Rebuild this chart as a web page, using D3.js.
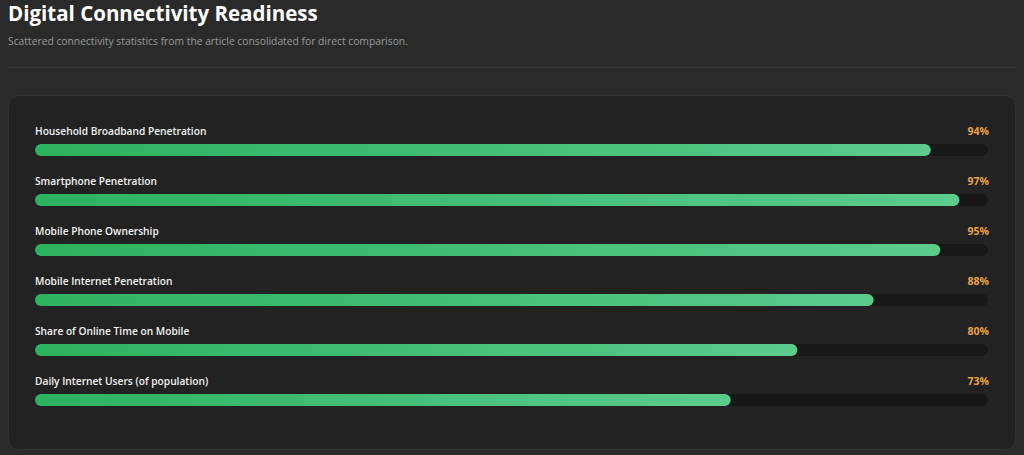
<!DOCTYPE html>
<html><head><meta charset="utf-8">
<script src="https://cdn.jsdelivr.net/npm/d3@7"></script>
<style>
html,body{margin:0;padding:0;background:#2a2a2a;overflow:hidden;}
svg{display:block;}
</style></head>
<body>
<svg id="chart" width="1024" height="455"></svg>
<script>
const categories = ["Household Broadband Penetration","Smartphone Penetration","Mobile Phone Ownership","Mobile Internet Penetration","Share of Online Time on Mobile","Daily Internet Users (of population)"];
const values = [94, 97, 95, 88, 80, 73];
const valueLabels = ["94%","97%","95%","88%","80%","73%"];

const svg = d3.select("#chart");
const W = 1024, H = 455;
const font = "'Open Sans', 'Noto Sans', sans-serif";

svg.append("rect").attr("width",W).attr("height",H).attr("fill","#2a2a2a");

svg.append("text").attr("x",8).attr("y",20.5).attr("fill","#ffffff")
  .attr("font-family",font).attr("font-weight",700).attr("font-size",20.5)
  .text("Digital Connectivity Readiness");
svg.append("text").attr("x",8).attr("y",44.5).attr("fill","#9a9a9a")
  .attr("font-family",font).attr("font-size",10.3)
  .text("Scattered connectivity statistics from the article consolidated for direct comparison.");
svg.append("line").attr("x1",8).attr("x2",1016).attr("y1",67.5).attr("y2",67.5)
  .attr("stroke","#3a3a3a").attr("stroke-width",1);

// card
svg.append("rect").attr("x",8.5).attr("y",95.5).attr("width",1007).attr("height",354)
  .attr("rx",10).attr("fill","#222222").attr("stroke","#333333");

const defs = svg.append("defs");
const grad = defs.append("linearGradient").attr("id","barGrad").attr("x1","0%").attr("x2","100%");
grad.append("stop").attr("offset","0%").attr("stop-color","#2bb35f");
grad.append("stop").attr("offset","100%").attr("stop-color","#5ccb8c");

const x = d3.scaleLinear().domain([0,100]).range([35,988]);
const y = d3.scaleBand().domain(categories).range([125,425]);
const barH = 12;

const rows = svg.append("g").selectAll("g").data(categories).join("g")
  .attr("transform", d => `translate(0,${y(d)})`);

rows.append("text").attr("x",35).attr("y",9.5).attr("fill","#f2f2f2")
  .attr("font-family",font).attr("font-weight",600).attr("font-size",10.2)
  .text(d => d);
rows.append("text").attr("x",989).attr("y",9.5).attr("text-anchor","end").attr("fill","#e9a245")
  .attr("font-family",font).attr("font-weight",700).attr("font-size",10.5)
  .text((d,i) => valueLabels[i]);
rows.append("rect").attr("x",x(0)).attr("y",19).attr("width",x(100)-x(0)).attr("height",barH)
  .attr("rx",barH/2).attr("fill","#181818");
rows.append("rect").attr("x",x(0)).attr("y",19)
  .attr("width",(d,i)=>x(values[i])-x(0)).attr("height",barH)
  .attr("rx",barH/2).attr("fill","url(#barGrad)");
</script>
</body></html>
